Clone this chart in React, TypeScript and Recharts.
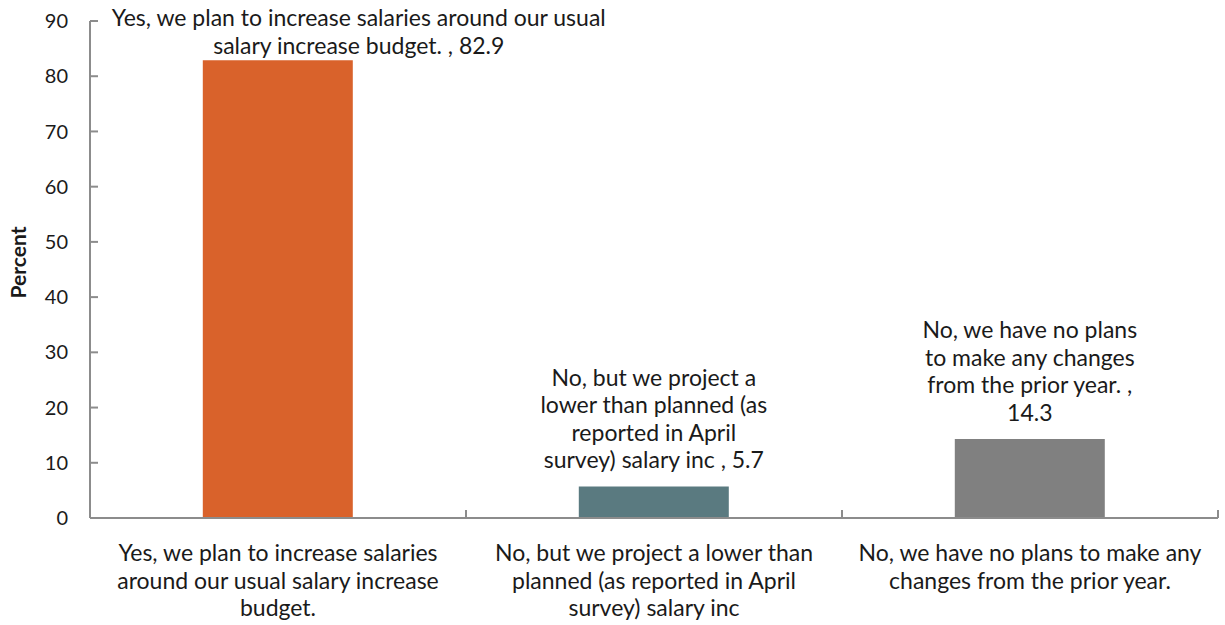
import { BarChart, Bar, XAxis, YAxis, Cell, LabelList, Label } from 'recharts';

const categories = [
  'Yes, we plan to increase salaries around our usual salary increase budget.',
  'No, but we project a lower than planned (as reported in April survey) salary inc',
  'No, we have no plans to make any changes from the prior year.',
];
const percents = [82.9, 5.7, 14.3];
const yTicks = [0, 10, 20, 30, 40, 50, 60, 70, 80, 90];

const BAR_COLORS = ['#d9622b', '#5a7a80', '#808080'];
// max characters per line for the data labels / axis labels
const LABEL_WRAP = [52, 24, 22];
const LABEL_DX = [81, 0, 0];
const AXIS_WRAP = [36, 31, 33];

const FONT = 'Lato, "Noto Sans", sans-serif';
const TEXT = '#1a1a1a';
const AXIS = '#8c8c8c';
const LINE_H = 27.5;
const FS = 23;

const data = categories.map((name, i) => ({ name, value: percents[i], idx: i }));

function wrap(text: string, max: number) {
  const words = text.split(' ');
  const lines: string[] = [];
  let cur = '';
  for (const w of words) {
    const next = cur ? cur + ' ' + w : w;
    if (next.length > max && cur) {
      lines.push(cur);
      cur = w;
    } else {
      cur = next;
    }
  }
  if (cur) lines.push(cur);
  return lines;
}

function BarLabel(props: any) {
  const { x, y, width, index } = props;
  const text = `${categories[index]} , ${percents[index]}`;
  const lines = wrap(text, LABEL_WRAP[index]);
  const cx = x + width / 2 + LABEL_DX[index];
  let first = y - LINE_H - (lines.length - 1) * LINE_H;
  if (first < 17) first = 17;
  return (
    <text x={cx} y={first} textAnchor="middle" dominantBaseline="central"
      fontFamily={FONT} fontSize={FS} fill={TEXT}>
      {lines.map((l, i) => (
        <tspan key={i} x={cx} y={first + i * LINE_H}>{l}</tspan>
      ))}
    </text>
  );
}

// category label plus the small inward tick marks at the category boundaries
function CategoryTick(props: any) {
  const { x, y, payload, index, visibleTicksCount } = props;
  const half = payload.offset || 188;
  const axisY = y - 8;
  const lines = wrap(payload.value, AXIS_WRAP[index] ?? 32);
  return (
    <g>
      <line x1={x - half} x2={x - half} y1={axisY} y2={axisY - 8} stroke={AXIS} strokeWidth={2} />
      {index === visibleTicksCount - 1 && (
        <line x1={x + half} x2={x + half} y1={axisY} y2={axisY - 8} stroke={AXIS} strokeWidth={2} />
      )}
      <text x={x} y={y} textAnchor="middle" dominantBaseline="central"
        fontFamily={FONT} fontSize={FS} fill={TEXT}>
        {lines.map((l, i) => (
          <tspan key={i} x={x} y={axisY + 34 + i * LINE_H}>{l}</tspan>
        ))}
      </text>
    </g>
  );
}

export default function App() {
  return (
    <div style={{ position: 'fixed', left: 0, top: 0, background: '#fff' }}>
      <BarChart
        width={1225}
        height={625}
        data={data}
        margin={{ top: 21, right: 7, bottom: 0, left: 0 }}
        barCategoryGap="30%"
      >
        <XAxis
          dataKey="name"
          height={107}
          stroke={AXIS}
          strokeWidth={2}
          tickLine={false}
          tickSize={0}
          tickMargin={8}
          tick={<CategoryTick />}
          interval={0}
        />
        <YAxis
          width={90}
          domain={[0, 90]}
          ticks={yTicks}
          tickSize={-8}
          tickMargin={30}
          stroke={AXIS}
          strokeWidth={2}
          tick={{ fontFamily: FONT, fontSize: 20, fill: TEXT }}
        >
          <Label
            value="Percent"
            angle={-90}
            position="insideLeft"
            dx={14}
            dy={-7}
            style={{ fontFamily: FONT, fontSize: 21, fontWeight: 700, fill: TEXT, textAnchor: 'middle' }}
          />
        </YAxis>
        <Bar dataKey="value" isAnimationActive={false}>
          {data.map((d) => (
            <Cell key={d.idx} fill={BAR_COLORS[d.idx]} />
          ))}
          <LabelList dataKey="value" content={<BarLabel />} />
        </Bar>
      </BarChart>
    </div>
  );
}
